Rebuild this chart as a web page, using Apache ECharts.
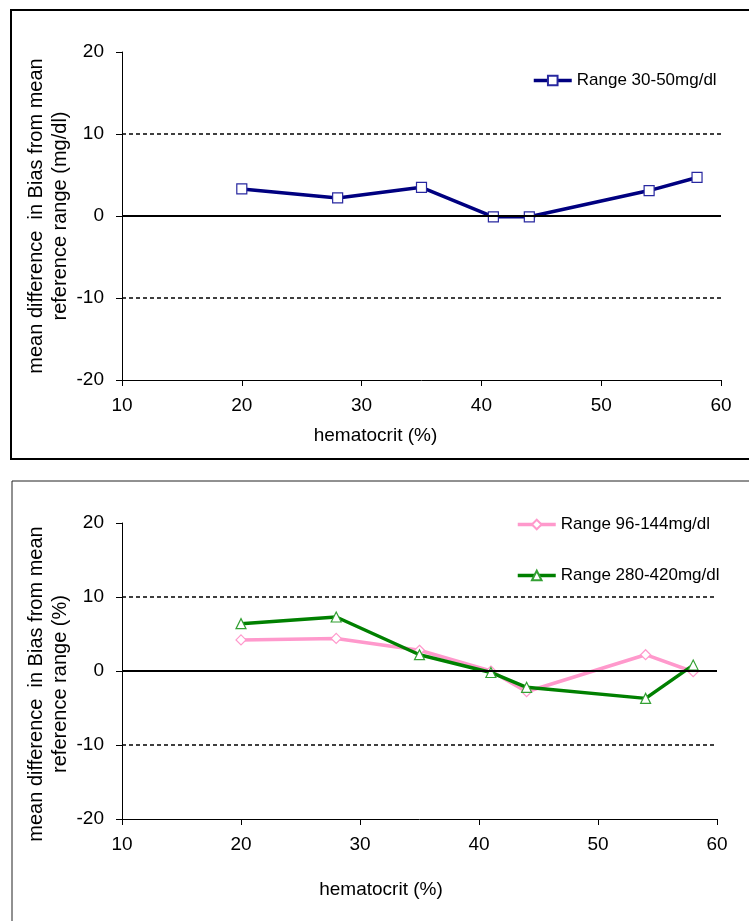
<!DOCTYPE html>
<html>
<head>
<meta charset="utf-8">
<script src="https://cdn.jsdelivr.net/npm/echarts@6/dist/echarts.min.js"></script>
<style>
  html, body { margin: 0; padding: 0; background: #fff; }
  #main { width: 749px; height: 921px; }
</style>
</head>
<body>
<div id="main"></div>
<script>
// hematocrit levels (%)
const hct = [20, 28, 35, 41, 44, 54, 58]
// top panel: bias in mg/dl
const biasLow = [3.3, 2.2, 3.5, -0.1, -0.1, 3.1, 4.7]
// bottom panel: bias in %
const biasMid = [4.2, 4.4, 2.8, 0, -2.8, 2.2, -0.1]
const biasHigh = [6.4, 7.3, 2.2, -0.2, -2.2, -3.7, 0.8]
const refLines = [0, 10, -10]

const font = 'Arial, "Liberation Sans", sans-serif'

const chart = echarts.init(document.getElementById('main'), null, { renderer: 'canvas' })

function pairs(ys) {
  return hct.map((x, i) => [x, ys[i]])
}

// 0 实线, ±10 虚线
function markLines() {
  return {
    silent: true,
    symbol: 'none',
    label: { show: false },
    data: refLines.map(v => ({
      yAxis: v,
      lineStyle: v === 0
        ? { color: '#000', width: 2, type: 'solid' }
        : { color: '#000', width: 1.5, type: [4, 3] }
    }))
  }
}

function xAxisOpt(gridIndex, gap, shift) {
  return {
    gridIndex,
    type: 'value',
    min: 10, max: 60, interval: 10,
    name: 'hematocrit (%)',
    nameLocation: 'middle',
    nameGap: gap,
    nameMoveOverlap: false,
    nameTextStyle: { color: '#000', fontSize: 19, fontFamily: font, padding: [0, shift, 0, 0] },
    axisLine: { onZero: false, lineStyle: { color: '#000', width: 1 } },
    axisTick: { show: true, inside: false, length: 6, lineStyle: { color: '#000' } },
    axisLabel: { color: '#000', fontSize: 19, fontFamily: font, margin: 16 },
    splitLine: { show: false }
  }
}

function yAxisOpt(gridIndex, unit, shift) {
  return {
    gridIndex,
    type: 'value',
    min: -20, max: 20, interval: 10,
    name: 'mean difference  in Bias from mean\nreference range ' + unit,
    nameLocation: 'middle',
    nameGap: 50,
    nameMoveOverlap: false,
    nameTextStyle: { color: '#000', fontSize: 20, lineHeight: 24, fontFamily: font, padding: [0, shift, 0, 0] },
    axisLine: { show: true, onZero: false, lineStyle: { color: '#000', width: 1 } },
    axisTick: { show: true, inside: false, length: 6, lineStyle: { color: '#000' } },
    axisLabel: { color: '#000', fontSize: 19, fontFamily: font, margin: 18 },
    splitLine: { show: false }
  }
}

const option = {
  animation: false,
  backgroundColor: '#fff',
  graphic: [
    { type: 'rect', shape: { x: 11, y: 10, width: 760, height: 449 }, style: { fill: 'none', stroke: '#000', lineWidth: 2 } },
    { type: 'rect', shape: { x: 12, y: 481, width: 760, height: 500 }, style: { fill: 'none', stroke: '#222', lineWidth: 1 } }
  ],
  grid: [
    { left: 122, top: 52, width: 599, height: 328 },
    { left: 122, top: 523, width: 595, height: 296 }
  ],
  legend: [
    {
      left: 527, top: 67,
      orient: 'vertical',
      itemWidth: 38, itemHeight: 12,
      lineStyle: { width: 3.5 },
      textStyle: { color: '#000', fontSize: 17, fontFamily: font },
      data: ['Range 30-50mg/dl']
    },
    {
      left: 511, top: 511,
      orient: 'vertical',
      itemWidth: 38, itemHeight: 12, itemGap: 34,
      lineStyle: { width: 3.5 },
      textStyle: { color: '#000', fontSize: 17, fontFamily: font },
      data: ['Range 96-144mg/dl', 'Range 280-420mg/dl']
    }
  ],
  xAxis: [xAxisOpt(0, 46, 92), xAxisOpt(1, 61, 77)],
  yAxis: [yAxisOpt(0, '(mg/dl)', 0), yAxisOpt(1, '(%)', 26)],
  series: [
    {
      name: 'Range 30-50mg/dl',
      type: 'line',
      xAxisIndex: 0, yAxisIndex: 0,
      data: pairs(biasLow),
      symbol: 'rect', symbolSize: 10,
      lineStyle: { color: '#000080', width: 3.5 },
      itemStyle: { color: '#fff', borderColor: '#2828a0', borderWidth: 1.2 },
      markLine: markLines(),
      z: 3
    },
    {
      name: 'Range 96-144mg/dl',
      type: 'line',
      xAxisIndex: 1, yAxisIndex: 1,
      data: pairs(biasMid),
      symbol: 'diamond', symbolSize: 10,
      lineStyle: { color: '#ff99cc', width: 3.5 },
      itemStyle: { color: '#fff', borderColor: '#ff99cc', borderWidth: 1.2 },
      markLine: markLines(),
      z: 3
    },
    {
      name: 'Range 280-420mg/dl',
      type: 'line',
      xAxisIndex: 1, yAxisIndex: 1,
      data: pairs(biasHigh),
      symbol: 'triangle', symbolSize: 10,
      lineStyle: { color: '#008000', width: 3.5 },
      itemStyle: { color: '#fff', borderColor: '#33a033', borderWidth: 1.2 },
      z: 4
    }
  ]
}

chart.setOption(option)
</script>
</body>
</html>
